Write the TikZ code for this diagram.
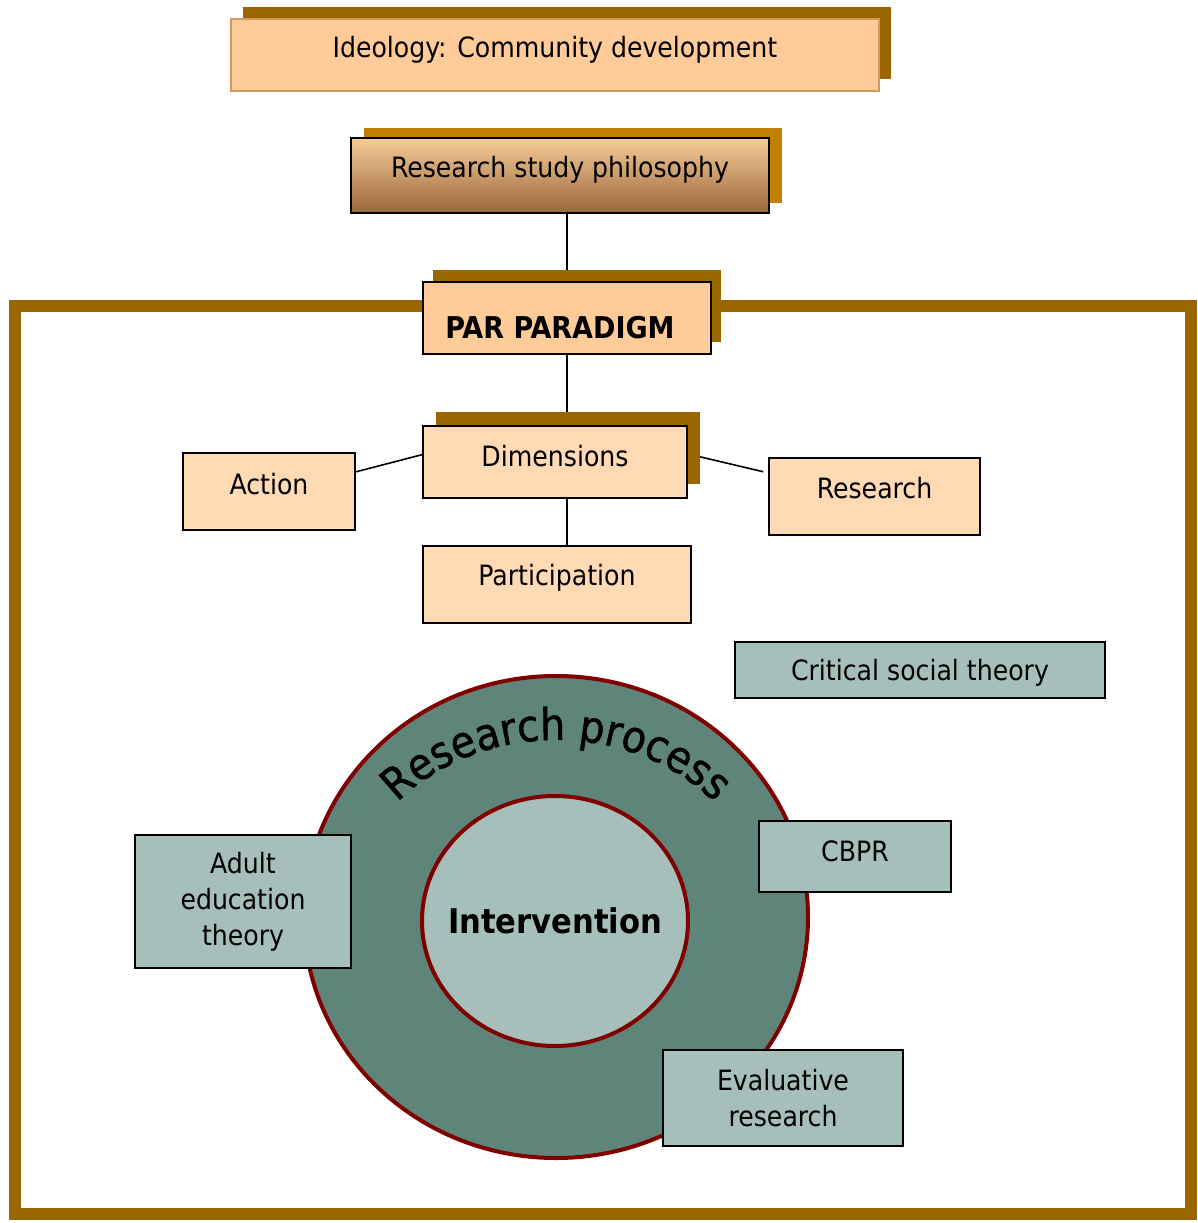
\documentclass[tikz,border=0pt]{standalone}
\usepackage{fontspec}
\setmainfont{DejaVu Sans Condensed}
\newfontfamily\arcfont{DejaVu Sans Condensed}[FakeBold=1.2]
\usetikzlibrary{shapes.geometric,shadows,backgrounds,calc,decorations.text}

\definecolor{peach}{HTML}{FFCC99}
\definecolor{lightpeach}{HTML}{FFDAB4}
\definecolor{shbrown}{HTML}{996600}
\definecolor{shgold}{HTML}{C08000}
\definecolor{ideoline}{HTML}{D29A5E}
\definecolor{philtop}{HTML}{F9CB98}
\definecolor{philbot}{HTML}{98673B}
\definecolor{sage}{HTML}{A6BFBA}
\definecolor{sagedark}{HTML}{5F857B}
\definecolor{ringred}{HTML}{800000}

\tikzset{
  box/.style={rectangle, draw=black, line width=1.6pt, inner sep=0pt},
  peachbox/.style={box, fill=lightpeach, minimum height=77pt},
  sagebox/.style={box, fill=sage, align=center},
  brownshadow/.style={general shadow={fill=shbrown, shadow xshift=#1pt, shadow yshift=12pt}},
  link/.style={black, line width=1.6pt},
}

\begin{document}
\begin{tikzpicture}[x=1pt, y=-1pt, font=\fontsize{28}{36}\selectfont]
\useasboundingbox (0,0) rectangle (1197,1223);

% draw the frame
\draw[shbrown, line width=12pt] (15,306) rectangle (1191,1214);

% draw the top boxes
\node[box, fill=peach, draw=ideoline, minimum width=648pt, minimum height=72pt,
      brownshadow=12, label={[yshift=5pt]center:{Ideology: Community development}}]
      (ideo) at (555,55) {};
\node[box, top color=philtop, bottom color=philbot, minimum width=418pt,
      minimum height=75pt,
      general shadow={fill=shgold, shadow xshift=13pt, shadow yshift=10pt},
      label={[yshift=6pt]center:Research study philosophy}]
      (phil) at (560,175.5) {};
\node[box, fill=peach, minimum width=288pt, minimum height=72pt, brownshadow=10,
      label={[xshift=-7pt, yshift=-10pt, font=\fontsize{30}{36}\selectfont\bfseries]center:PAR PARADIGM}]
      (par) at (567,318) {};

% draw the dimensions
\node[box, fill=lightpeach, minimum width=264pt, minimum height=72pt,
      general shadow={fill=shbrown, shadow xshift=13pt, shadow yshift=14pt},
      label={[yshift=6pt]center:Dimensions}] (dim) at (555,462) {};
\node[peachbox, minimum width=172pt, label={[yshift=7.5pt]center:Action}]
      (act) at (269,491.5) {};
\node[peachbox, minimum width=211pt, label={[yshift=8.5pt]center:Research}]
      (res) at (874.5,496.5) {};
\node[peachbox, minimum width=268pt, label={[yshift=7pt]center:Participation}]
      (part) at (557,584.5) {};

% draw the rings
\node[ellipse, draw=ringred, line width=4pt, fill=sagedark, minimum width=504pt,
      minimum height=482pt] (proc) at (556,917) {};
\node[ellipse, draw=ringred, line width=4pt, fill=sage, minimum width=266pt,
      minimum height=250pt,
      label={[font=\fontsize{34}{40}\selectfont\bfseries]center:Intervention}]
      (inter) at (555,921) {};
\path[decorate, decoration={text along path, text align=center,
      text={|\arcfont\fontsize{44}{44}\selectfont|Research process}}]
      (proc.center) ++(-175:208 and 177) arc[start angle=-175, end angle=-5,
      x radius=208, y radius=177];

% draw the theories
\node[sagebox, minimum width=370pt, minimum height=56pt,
      label={[yshift=-3pt]center:Critical social theory}] (crit) at (920,670) {};
\node[sagebox, minimum width=216pt, minimum height=133pt] (adult) at (243,901.5)
      {Adult\\education\\theory};
\node[sagebox, minimum width=192pt, minimum height=71pt,
      label={[yshift=5.5pt]center:CBPR}] (cbpr) at (855,856.5) {};
\node[sagebox, minimum width=240pt, minimum height=96pt] (eval) at (783,1098)
      {Evaluative\\research};

% draw the links
\begin{scope}[on background layer]
\draw[link] (par.north |- phil.south) -- (par.north);
\draw[link] (par.south) -- (par.south |- dim.north);
\draw[link] (par.south |- dim.south) -- (par.south |- part.north);
\draw[link] ($(act.east)!0.5!(act.north east)$) -- ($(dim.west)!0.2!(dim.north west)$);
\draw[link, shorten >=5pt] ($(dim.east)!0.22!(dim.north east)$) -- ($(res.west)!0.6!(res.north west)$);
\end{scope}

\end{tikzpicture}
\end{document}
